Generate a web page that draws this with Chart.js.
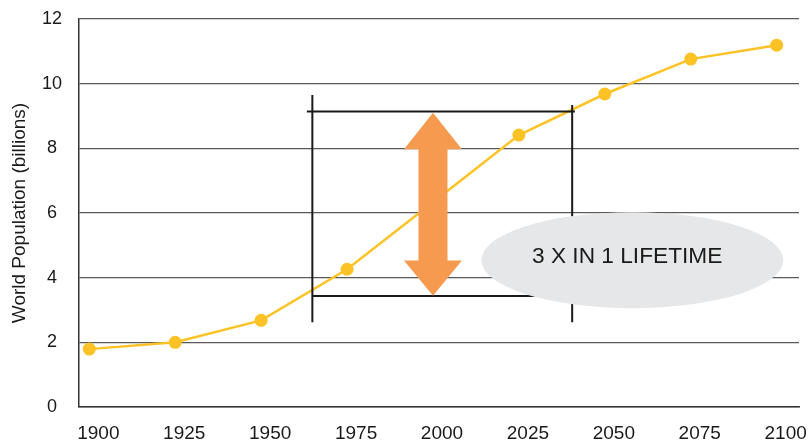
<!DOCTYPE html>
<html lang="en">
<head>
    <meta charset="UTF-8">
    <title>World Population</title>
    <script src="https://cdn.jsdelivr.net/npm/chart.js"></script>
    <style>
        html, body { margin: 0; padding: 0; background: #fff; }
        .grafica { width: 809px; height: 442px; }
    </style>
</head>
<body>
    <div class="grafica">
        <canvas id="myChart"></canvas>
    </div>
    <script>
        // datos
        const years = [1900, 1925, 1950, 1975, 2000, 2025, 2050, 2075, 2100];
        const population = [1.79, 2.0, 2.68, 4.26, 6.33, 8.41, 9.68, 10.76, 11.19];
        const markerShown = [true, true, true, true, false, true, true, true, true];
        const yearTicks = [1900, 1925, 1950, 1975, 2000, 2025, 2050, 2075, 2100];
        const popTicks = [0, 2, 4, 6, 8, 10, 12];
        const yTitle = 'World Population (billions)';
        const calloutText = '3 X IN 1 LIFETIME';

        // anotaciones en unidades de datos (año, miles de millones)
        const bracketLeft = { x: 1964.9, yTop: 9.65, yBottom: 2.62 };
        const bracketRight = { x: 2040.5, yTop: 9.34, yBottom: 2.62 };
        const bracketTop = { y: 9.14, xFrom: 1963.3, xTo: 2041.3 };
        const bracketBottom = { y: 3.43, xFrom: 1964.9, xTo: 2040.5 };
        const arrow = { x: 2000, top: 9.1, headTop: 7.97, headBottom: 4.53, bottom: 3.44 };
        const bubble = { x: 2058, y: 4.54, textX: 2056.5, textY: 4.66 };

        const fontFamily = '"Liberation Sans", Arial, Helvetica, sans-serif';

        const annotations = {
            id: 'annotations',
            afterDatasetsDraw(chart) {
                const ctx = chart.ctx;
                const xs = chart.scales.x;
                const ys = chart.scales.y;
                const px = v => xs.getPixelForValue(v);
                const py = v => ys.getPixelForValue(v);

                ctx.save();
                // corchete negro
                ctx.strokeStyle = '#1a1a1a';
                ctx.lineWidth = 2;
                ctx.beginPath();
                ctx.moveTo(px(bracketLeft.x), py(bracketLeft.yTop));
                ctx.lineTo(px(bracketLeft.x), py(bracketLeft.yBottom));
                ctx.moveTo(px(bracketRight.x), py(bracketRight.yTop));
                ctx.lineTo(px(bracketRight.x), py(bracketRight.yBottom));
                ctx.moveTo(px(bracketTop.xFrom), py(bracketTop.y));
                ctx.lineTo(px(bracketTop.xTo), py(bracketTop.y));
                ctx.moveTo(px(bracketBottom.xFrom), py(bracketBottom.y));
                ctx.lineTo(px(bracketBottom.xTo), py(bracketBottom.y));
                ctx.stroke();

                // flecha naranja doble
                const cx = px(arrow.x);
                const headHalf = 29;
                const shaftHalf = 14.5;
                ctx.fillStyle = '#F59A4F';
                ctx.beginPath();
                ctx.moveTo(cx, py(arrow.top));
                ctx.lineTo(cx + headHalf, py(arrow.headTop));
                ctx.lineTo(cx + shaftHalf, py(arrow.headTop));
                ctx.lineTo(cx + shaftHalf, py(arrow.headBottom));
                ctx.lineTo(cx + headHalf, py(arrow.headBottom));
                ctx.lineTo(cx, py(arrow.bottom));
                ctx.lineTo(cx - headHalf, py(arrow.headBottom));
                ctx.lineTo(cx - shaftHalf, py(arrow.headBottom));
                ctx.lineTo(cx - shaftHalf, py(arrow.headTop));
                ctx.lineTo(cx - headHalf, py(arrow.headTop));
                ctx.closePath();
                ctx.fill();

                // elipse gris con texto
                ctx.fillStyle = '#E6E7E8';
                ctx.beginPath();
                ctx.ellipse(px(bubble.x), py(bubble.y), 151, 48, 0, 0, Math.PI * 2);
                ctx.fill();

                ctx.fillStyle = '#1a1a1a';
                ctx.font = '22.7px ' + fontFamily;
                ctx.textAlign = 'center';
                ctx.textBaseline = 'middle';
                ctx.fillText(calloutText, px(bubble.textX), py(bubble.textY));
                ctx.restore();
            }
        };

        const config = {
            type: 'line',
            data: {
                datasets: [{
                    label: 'World Population',
                    data: years.map((y, i) => ({ x: y, y: population[i] })),
                    borderColor: '#FDC326',
                    backgroundColor: '#FDC326',
                    borderWidth: 2.5,
                    pointRadius: markerShown.map(m => m ? 6.5 : 0),
                    pointHoverRadius: markerShown.map(m => m ? 6.5 : 0),
                    pointBorderWidth: 0,
                    tension: 0
                }]
            },
            options: {
                responsive: true,
                maintainAspectRatio: false,
                animation: false,
                events: [],
                layout: { padding: { top: 19, right: 10, bottom: 0, left: 0 } },
                plugins: {
                    legend: { display: false },
                    tooltip: { enabled: false }
                },
                scales: {
                    x: {
                        type: 'linear',
                        min: 1897,
                        max: 2106.5,
                        afterBuildTicks: s => { s.ticks = yearTicks.map(v => ({ value: v })); },
                        afterFit: s => { s.height = 35; },
                        // las marcas son invisibles, solo empujan las etiquetas
                        grid: { drawOnChartArea: false, drawTicks: true, tickLength: 15, tickColor: 'transparent' },
                        border: { display: true, color: '#333', width: 1.5 },
                        ticks: {
                            callback: v => String(v),
                            color: '#1a1a1a',
                            font: { family: fontFamily, size: 19 },
                            padding: 0,
                            labelOffset: 9,
                            maxRotation: 0,
                            autoSkip: false
                        }
                    },
                    y: {
                        type: 'linear',
                        min: 0,
                        max: 12,
                        afterBuildTicks: s => { s.ticks = popTicks.map(v => ({ value: v })); },
                        afterFit: s => { s.width = 79; },
                        grid: { color: '#5a5a5a', lineWidth: 1.2, drawTicks: true, tickLength: 17, tickColor: 'transparent' },
                        border: { display: true, color: '#333', width: 1.5 },
                        title: {
                            display: true,
                            text: yTitle,
                            color: '#1a1a1a',
                            font: { family: fontFamily, size: 19 },
                            padding: { top: 8, bottom: 0 }
                        },
                        ticks: {
                            callback: v => String(v),
                            color: '#1a1a1a',
                            font: { family: fontFamily, size: 18 },
                            padding: 0,
                            crossAlign: 'center'
                        }
                    }
                }
            },
            plugins: [annotations]
        };

        new Chart(document.getElementById('myChart'), config);
    </script>
</body>
</html>
